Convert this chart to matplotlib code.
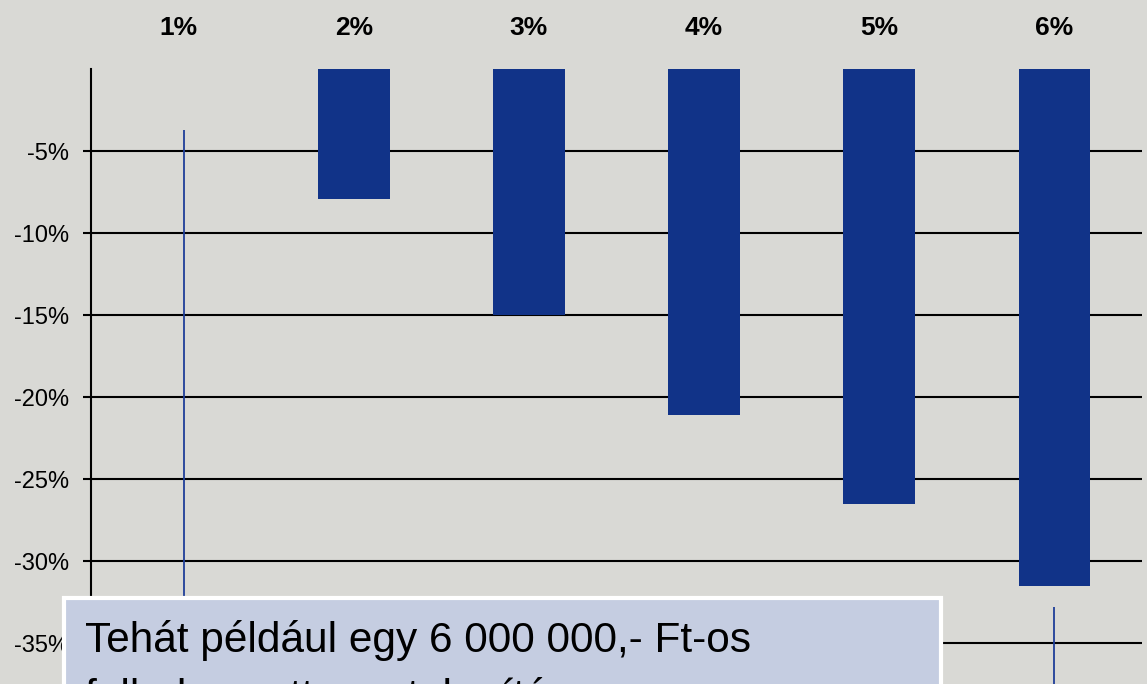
import matplotlib.pyplot as plt
from matplotlib.patches import Rectangle

categories = ["1%", "2%", "3%", "4%", "5%", "6%"]
values = [0.0, -7.9, -15.0, -21.1, -26.5, -31.5]
y_ticks = [-5, -10, -15, -20, -25, -30, -35]

# thin marker lines (category position, top of line in %)
marker_x = [0.03, 5]
marker_top = [-3.7, -32.8]

note_text = "Tehát például egy 6 000 000,- Ft-os\nfelhalmozott megtakarítás"

bg = "#d9d9d5"
bar_color = "#113388"

plt.rcParams["font.family"] = ["Liberation Sans", "DejaVu Sans"]

W, H = 1147, 684
fig = plt.figure(figsize=(W / 100, H / 100), dpi=100, facecolor=bg)
ax = fig.add_axes([91 / W, 0, (1142 - 91) / W, (H - 69) / H])
ax.set_facecolor(bg)

x = list(range(len(categories)))
ax.bar(x, values, width=0.41, color=bar_color, zorder=3)
ax.vlines(marker_x, -37.5, marker_top, color="#1f3f99", linewidth=1.3, zorder=4)

ax.set_xlim(-0.5, 5.5)
ax.set_ylim(-37.5, 0)

ax.set_yticks(y_ticks)
ax.set_yticklabels([f"{v}%" for v in y_ticks], fontsize=17)
ax.yaxis.grid(True, color="black", linewidth=1.5, zorder=1)
ax.tick_params(axis="y", length=6, width=1.5, pad=10)

ax.xaxis.tick_top()
ax.set_xticks(x)
ax.set_xticklabels(categories, fontsize=19, fontweight="bold")
ax.tick_params(axis="x", length=0, pad=21)

for side in ["top", "right", "bottom"]:
    ax.spines[side].set_visible(False)
ax.spines["left"].set_linewidth(1.5)

# note box, partly cut off at the bottom edge
fig.patches.append(Rectangle((64 / W, -0.1), (941 - 64) / W, 0.1 + (H - 598) / H,
                             transform=fig.transFigure, facecolor="#c5cde1",
                             edgecolor="white", linewidth=3, zorder=9))
fig.text(85 / W, (H - 620) / H, note_text, fontsize=30.5, va="top", ha="left",
         linespacing=1.5, zorder=10)

fig.savefig("out.png", dpi=100, facecolor=bg)
